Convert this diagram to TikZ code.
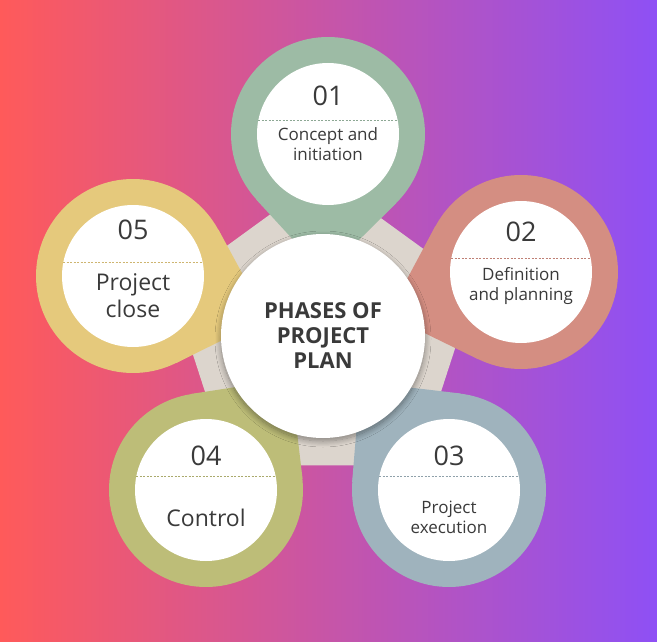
\documentclass[tikz,border=0pt]{standalone}
\usepackage{fontspec}
\setmainfont{Open Sans}
\usetikzlibrary{calc,shadows.blur}
\definecolor{cA}{HTML}{9DBBA5}
\definecolor{cB}{HTML}{D48E82}
\definecolor{cC}{HTML}{9FB3BD}
\definecolor{cD}{HTML}{BDBD78}
\definecolor{cE}{HTML}{E5C97C}
\definecolor{txt}{HTML}{3A3A3A}
\definecolor{pent}{HTML}{DCD5CD}
\definecolor{bgL}{HTML}{FF5A5A}
\definecolor{bgR}{HTML}{8E50F5}
\begin{document}
\begin{tikzpicture}[x=1pt,y=-1pt,
  outer/.style={circle,minimum size=194pt,inner sep=0pt},
  inner/.style={circle,fill=white,minimum size=142pt,inner sep=0pt},
  num/.style={text=txt,font=\fontsize{27}{27}\selectfont},
  lab/.style={text=txt,align=center,font=\fontsize{17}{20}\selectfont},
  sep/.style={line width=0.6pt,dash pattern=on 2pt off 1.5pt}]
\shade[left color=bgL,right color=bgR] (0,0) rectangle (657,642);
\useasboundingbox (0,0) rectangle (657,642);
\coordinate (m) at (323,336);
\fill[pent] ($(m)+(-90:160)$) -- ($(m)+(-18:160)$) -- ($(m)+(54:160)$) -- ($(m)+(126:160)$) -- ($(m)+(198:160)$) -- cycle;
\foreach \n/\x/\y/\c in {a/328/134/cA,b/521/272/cB,c/449/490/cC,d/206/490/cD,e/133/276/cE}{
  \node[outer,fill=\c] (o\n) at (\x,\y) {};
  \coordinate (t\n) at ($(o\n.center)!140pt!(m)$);
  \fill[\c] (t\n) -- (tangent cs:node=o\n,point={(t\n)},solution=1) -- (o\n.center) -- (tangent cs:node=o\n,point={(t\n)},solution=2) -- cycle;
  \node[inner] (i\n) at (\x,\y) {};
  \draw[sep,\c!90!black] ($(i\n.center)+(-70,-14)$) -- ($(i\n.center)+(70,-14)$);
}
\node[circle,fill=white,minimum size=204pt,blur shadow={shadow blur steps=12,shadow xshift=0pt,shadow yshift=-3pt,shadow blur radius=6pt}] (ctr) at (m) {};
\node[text=txt,align=center,font=\bfseries\fontsize{22}{25}\selectfont] (ct) at (m) {PHASES OF\\PROJECT\\PLAN};
\node[num] (na) at ($(ia)+(0,-38)$) {01};
\node[lab] (la) at ($(ia)+(0,10)$) {Concept and\\initiation};
\node[num] (nb) at ($(ib)+(0,-40)$) {02};
\node[lab] (lb) at ($(ib)+(0,14)$) {Definition\\and planning};
\node[num] (nc) at ($(ic)+(0,-34)$) {03};
\node[lab] (lc) at ($(ic)+(0,27)$) {Project\\execution};
\node[num] (nd) at ($(id)+(0,-34)$) {04};
\node[lab,font=\fontsize{23}{26}\selectfont] (ld) at ($(id)+(0,28)$) {Control};
\node[num] (ne) at ($(ie)+(0,-46)$) {05};
\node[lab,font=\fontsize{23}{27}\selectfont] (le) at ($(ie)+(0,20)$) {Project\\close};
\end{tikzpicture}
\end{document}
